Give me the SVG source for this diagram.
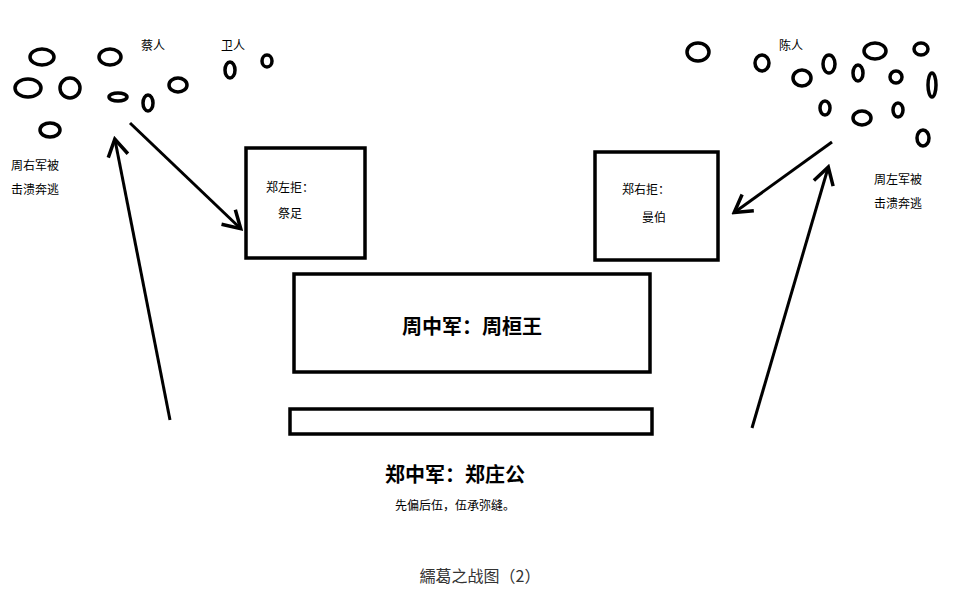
<svg xmlns="http://www.w3.org/2000/svg" width="960" height="594" viewBox="0 0 960 594">
<style>
.o{fill:none;stroke:#000;stroke-width:3.5}
.b{fill:#fff;stroke:#000;stroke-width:3.5}
.c{stroke:#000;stroke-width:3;fill:none}
text{font-family:"Noto Sans CJK SC",sans-serif;fill:#000}
.s{font-size:12px}
.big{font-size:20px;font-weight:bold}
</style>
<defs><marker id="a" markerWidth="10" markerHeight="10" refX="8" refY="5" orient="auto" markerUnits="userSpaceOnUse" viewBox="0 0 10 10"><path d="M0,0 L9,5 L0,10" fill="none" stroke="#000" stroke-width="2"/></marker>
<marker id="h" markerWidth="24" markerHeight="24" refX="20" refY="12" orient="auto" markerUnits="userSpaceOnUse"><path d="M4,2 L21,12 L4,22" fill="none" stroke="#000" stroke-width="3.5"/></marker></defs>
<rect width="960" height="594" fill="#fff"/>
<g id="zhou-right-army">
<ellipse class="o" cx="42" cy="57" rx="12" ry="8"/><ellipse class="o" cx="110" cy="57" rx="11" ry="8"/><ellipse class="o" cx="28" cy="88" rx="13" ry="9"/><ellipse class="o" cx="70" cy="88" rx="10" ry="10"/><ellipse class="o" cx="118" cy="97" rx="9" ry="4"/><ellipse class="o" cx="148" cy="103" rx="5" ry="8"/><ellipse class="o" cx="178" cy="85" rx="9" ry="7"/><ellipse class="o" cx="230" cy="70" rx="5" ry="8"/><ellipse class="o" cx="267" cy="61" rx="5" ry="6"/><ellipse class="o" cx="50" cy="130" rx="10" ry="7"/>
<text class="s" x="153" y="50" text-anchor="middle">蔡人</text><text class="s" x="233" y="50" text-anchor="middle">卫人</text>
<text class="s" x="35" y="170" text-anchor="middle">周右军被</text><text class="s" x="35" y="194" text-anchor="middle">击溃奔逃</text>
</g>
<g id="zhou-left-army">
<ellipse class="o" cx="698" cy="52" rx="11" ry="9"/><ellipse class="o" cx="762" cy="63" rx="7" ry="8"/><ellipse class="o" cx="802" cy="78" rx="9" ry="8"/><ellipse class="o" cx="829" cy="64" rx="6" ry="9"/><ellipse class="o" cx="875" cy="51" rx="11" ry="8"/><ellipse class="o" cx="921" cy="49" rx="7" ry="6"/><ellipse class="o" cx="858" cy="73" rx="5" ry="8"/><ellipse class="o" cx="896" cy="77" rx="6" ry="6"/><ellipse class="o" cx="932" cy="85" rx="4" ry="12"/><ellipse class="o" cx="825" cy="108" rx="5" ry="7"/><ellipse class="o" cx="862" cy="118" rx="9" ry="7"/><ellipse class="o" cx="898" cy="110" rx="5" ry="7"/><ellipse class="o" cx="923" cy="138" rx="6" ry="8"/>
<text class="s" x="791" y="50" text-anchor="middle">陈人</text>
<text class="s" x="898" y="184" text-anchor="middle">周左军被</text><text class="s" x="898" y="208" text-anchor="middle">击溃奔逃</text>
</g>
<g id="zheng-left"><rect class="b" x="246" y="148" width="119" height="110"/><text class="s" x="290" y="192" text-anchor="middle">郑左拒：</text><text class="s" x="290" y="218" text-anchor="middle">祭足</text></g>
<g id="zheng-right"><rect class="b" x="595" y="152" width="123" height="108"/><text class="s" x="646" y="194" text-anchor="middle">郑右拒：</text><text class="s" x="654" y="222" text-anchor="middle">曼伯</text></g>
<g id="zhou-center"><rect class="b" x="294" y="274" width="356" height="98"/><text class="big" x="472" y="334" text-anchor="middle">周中军：周桓王</text></g>
<g id="zheng-center"><rect class="b" x="290" y="409" width="362" height="25"/><text class="big" x="455" y="482" text-anchor="middle">郑中军：郑庄公</text><text class="s" x="455" y="510" text-anchor="middle">先偏后伍，伍承弥缝。</text></g>
<g id="connectors">
<line class="c" x1="130" y1="123" x2="240" y2="228" marker-end="url(#h)"/>
<line class="c" x1="170" y1="420" x2="115" y2="140" marker-end="url(#h)"/>
<line class="c" x1="832" y1="142" x2="735" y2="212" marker-end="url(#h)"/>
<line class="c" x1="752" y1="428" x2="828" y2="168" marker-end="url(#h)"/>
</g>
<text x="480" y="582" text-anchor="middle" style="font-size:16px;fill:#333">繻葛之战图（2）</text>
</svg>
